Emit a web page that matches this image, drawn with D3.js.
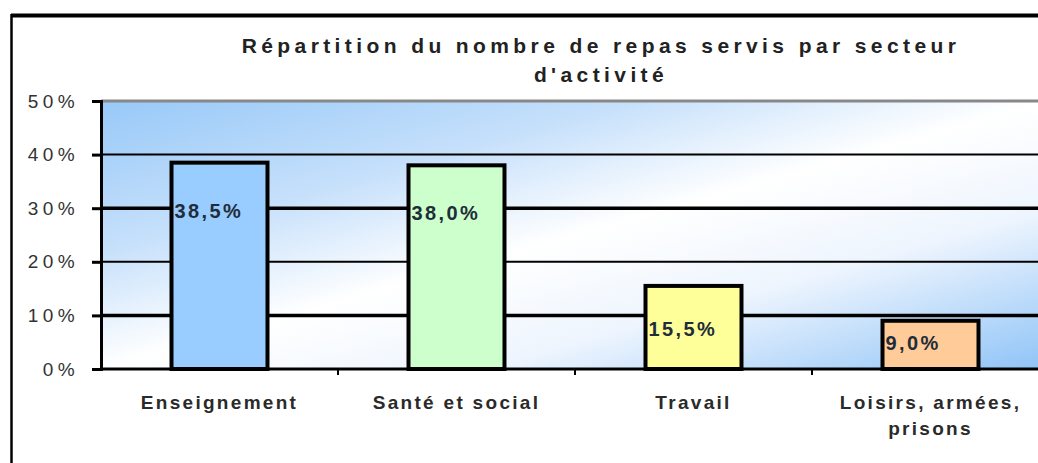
<!DOCTYPE html>
<html>
<head>
<meta charset="utf-8">
<script src="https://cdn.jsdelivr.net/npm/d3@7"></script>
<style>
  body { margin: 0; background: #fff; }
  svg text { font-family: Arial, "Liberation Sans", sans-serif; }
</style>
</head>
<body>
<div id="chart"></div>
<script>
// data
var categories = ["Enseignement", "Santé et social", "Travail", "Loisirs, armées, prisons"];
var labelLines = [["Enseignement"], ["Santé et social"], ["Travail"], ["Loisirs, armées,", "prisons"]];
var values = [0.385, 0.38, 0.155, 0.09];
var valueLabels = ["38,5%", "38,0%", "15,5%", "9,0%"];
var barColors = ["#99ccff", "#ccffcc", "#ffff99", "#ffcc99"];
var yTicks = [0, 0.1, 0.2, 0.3, 0.4, 0.5];
var titleLines = ["Répartition du nombre de repas servis par secteur", "d'activité"];

var W = 1038, H = 463;
// plot area (runs a bit past the right edge, like the original)
var margin = {top: 101, left: 101, bottom: 94, right: -11};
var width = W - margin.left - margin.right,
    height = H - margin.top - margin.bottom;

var svg = d3.select("#chart").append("svg")
    .attr("width", W)
    .attr("height", H);

var defs = svg.append("defs");
var grad = defs.append("linearGradient")
    .attr("id", "bg")
    .attr("x1", 0).attr("y1", 0).attr("x2", 1).attr("y2", 1);
grad.append("stop").attr("offset", 0).attr("stop-color", "#98c9f8");
grad.append("stop").attr("offset", 0.28).attr("stop-color", "#c6e0fb");
grad.append("stop").attr("offset", 0.5).attr("stop-color", "#ffffff");
grad.append("stop").attr("offset", 0.7).attr("stop-color", "#eef5fe");
grad.append("stop").attr("offset", 1).attr("stop-color", "#8fc3f7");

// outer frame
svg.append("line").attr("x1", 11).attr("x2", W).attr("y1", 15.5).attr("y2", 15.5)
    .attr("stroke", "#000").attr("stroke-width", 4);
svg.append("line").attr("x1", 11.5).attr("x2", 11.5).attr("y1", 14).attr("y2", H)
    .attr("stroke", "#000").attr("stroke-width", 2.5);

// title
var title = svg.append("text")
    .attr("x", 601)
    .attr("y", 53)
    .attr("text-anchor", "middle")
    .style("font-size", "21px")
    .style("font-weight", "bold")
    .style("letter-spacing", "4.4px")
    .style("fill", "#222");
title.selectAll("tspan").data(titleLines).enter().append("tspan")
    .attr("x", 601)
    .attr("dy", function(d, i) { return i === 0 ? 0 : 29; })
    .text(function(d) { return d; });

var g = svg.append("g")
    .attr("transform", "translate(" + margin.left + "," + margin.top + ")");

var x = d3.scaleBand().domain(categories).range([0, width])
    .paddingInner(0.595).paddingOuter(0.2975);
var y = d3.scaleLinear().domain([0, 0.5]).range([height, 0]);

g.append("rect")
    .attr("width", width)
    .attr("height", height)
    .attr("fill", "url(#bg)");

// gridlines, alternating thickness like the original
g.selectAll(".grid")
    .data(yTicks.filter(function(d) { return d > 0; }))
    .enter().append("line")
    .attr("class", "grid")
    .attr("x1", 0).attr("x2", width)
    .attr("y1", function(d) { return y(d); })
    .attr("y2", function(d) { return y(d); })
    .attr("stroke", function(d) { return d === 0.5 ? "#888" : "#000"; })
    .attr("stroke-width", function(d) {
        if (d === 0.5) return 3;
        return (Math.round(d * 10) % 2 === 1) ? 3.5 : 2;
    });

// bars
g.selectAll(".bar")
    .data(values).enter()
    .append("rect")
    .attr("class", "bar")
    .attr("x", function(d, i) { return x(categories[i]); })
    .attr("y", function(d) { return y(d); })
    .attr("width", x.bandwidth())
    .attr("height", function(d) { return height - y(d); })
    .attr("fill", function(d, i) { return barColors[i]; })
    .attr("stroke", "#000")
    .attr("stroke-width", 4);

// value labels
g.selectAll(".vlab")
    .data(values).enter()
    .append("text")
    .attr("class", "vlab")
    .attr("x", function(d, i) { return x(categories[i]) + 3; })
    .attr("y", function(d) {
        var h = height - y(d);
        return y(d) + Math.min(55, h * 0.6);
    })
    .style("font-size", "20px")
    .style("font-weight", "bold")
    .style("letter-spacing", "2.4px")
    .style("fill", "#1f2d3a")
    .text(function(d, i) { return valueLabels[i]; });

// y axis
var yAxis = d3.axisLeft(y).tickValues(yTicks)
    .tickFormat(d3.format(".0%"))
    .tickSize(9).tickPadding(13);
var ya = g.append("g").attr("class", "y axis").call(yAxis);
ya.select(".domain").attr("stroke", "#000").attr("stroke-width", 3);
ya.selectAll(".tick line").attr("stroke", "#000").attr("stroke-width", 3);
ya.selectAll(".tick text")
    .style("font-size", "19px")
    .style("letter-spacing", "4.4px")
    .style("fill", "#333");

// x axis
var xa = g.append("g").attr("class", "x axis")
    .attr("transform", "translate(0," + height + ")");
xa.append("line").attr("x1", 0).attr("x2", width)
    .attr("stroke", "#000").attr("stroke-width", 3);
xa.selectAll(".xtick")
    .data(categories.slice(1)).enter()
    .append("line")
    .attr("x1", function(d) { return x(d) - x.step() * x.paddingInner() / 2; })
    .attr("x2", function(d) { return x(d) - x.step() * x.paddingInner() / 2; })
    .attr("y1", 0).attr("y2", 6)
    .attr("stroke", "#000").attr("stroke-width", 2);

var xl = xa.selectAll(".xlab")
    .data(categories).enter()
    .append("text")
    .attr("class", "xlab")
    .attr("text-anchor", "middle")
    .attr("y", 40)
    .style("font-size", "19px")
    .style("font-weight", "bold")
    .style("letter-spacing", "2.3px")
    .style("fill", "#2a2a2a");
xl.selectAll("tspan")
    .data(function(d, i) { return labelLines[i]; })
    .enter().append("tspan")
    .attr("x", function() {
        var c = d3.select(this.parentNode).datum();
        return x(c) + x.bandwidth() / 2;
    })
    .attr("dy", function(d, i) { return i === 0 ? 0 : 26; })
    .text(function(d) { return d; });
</script>
</body>
</html>
